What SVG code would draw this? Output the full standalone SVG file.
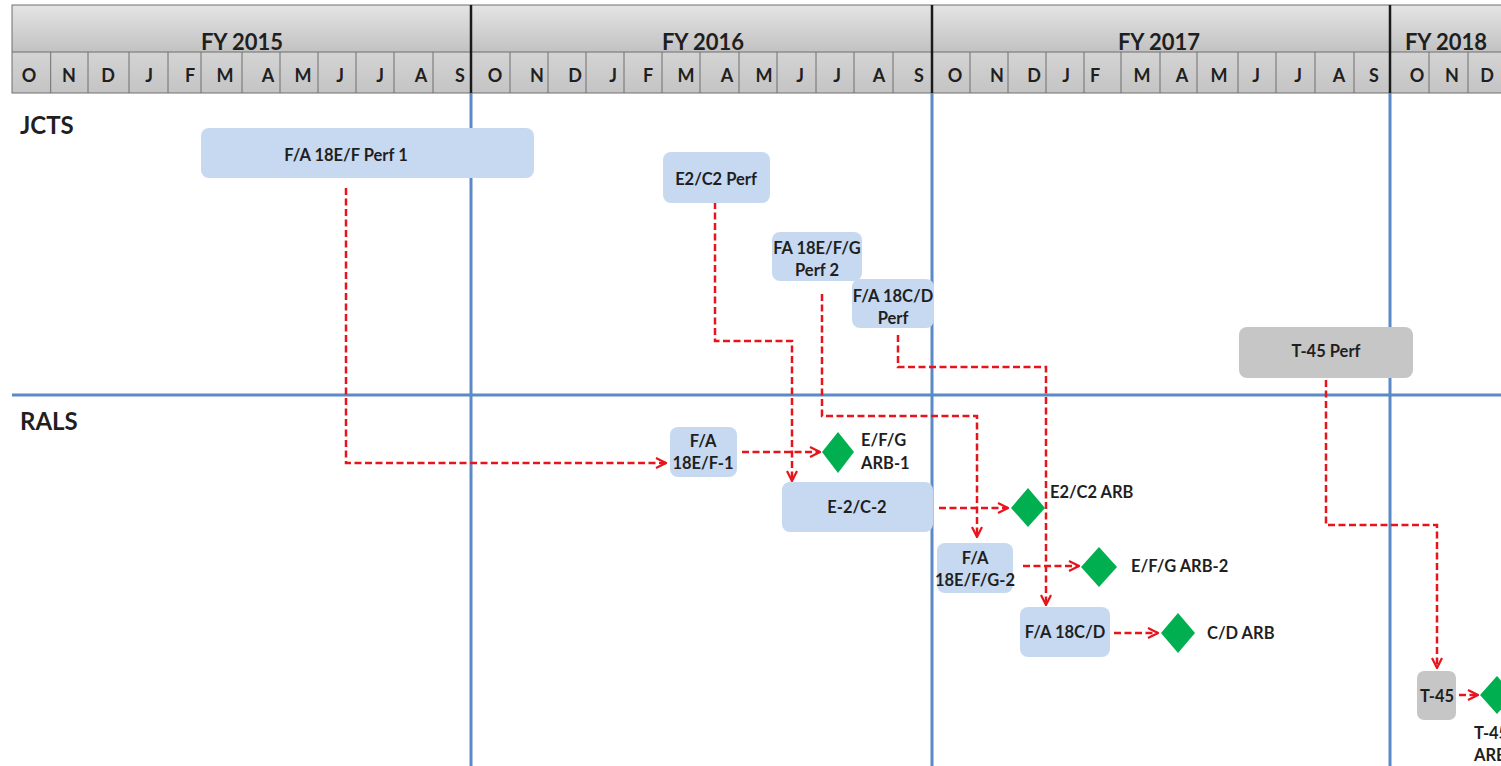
<svg xmlns="http://www.w3.org/2000/svg" width="1501" height="766" viewBox="0 0 1501 766">
<defs>
<linearGradient id="hdr" x1="0" y1="0" x2="0" y2="1">
<stop offset="0" stop-color="#e4e4e4"/>
<stop offset="1" stop-color="#c2c2c2"/>
</linearGradient>
<linearGradient id="mon" x1="0" y1="0" x2="0" y2="1">
<stop offset="0" stop-color="#d4d4d4"/>
<stop offset="1" stop-color="#c4c4c4"/>
</linearGradient>
<marker id="arr" viewBox="0 0 12 12" refX="11" refY="6" markerWidth="12" markerHeight="12" markerUnits="userSpaceOnUse" orient="auto">
<path d="M1,1 L11,6 L1,11" fill="none" stroke="#e8141c" stroke-width="2.2"/>
</marker>
<style>
text{font-family:Lato,"Open Sans","Liberation Sans",sans-serif;font-weight:700;fill:#1f1f1f}
.fy{font-size:22px;text-anchor:middle}
.m{font-size:18px;text-anchor:middle}
.sec{font-size:24px}
.nt{font-size:16.5px;text-anchor:middle}
.lb{font-size:16.5px}
.box{fill:#c6d9f1}
.gbox{fill:#c6c6c6}
.dia{fill:#00b050}
.grid{stroke:#5b8ac6;stroke-width:3;fill:none}
.cell{stroke:#6e6e6e;stroke-width:1;fill:none}
.fyl{stroke:#1a1a1a;stroke-width:2.5}
.con path{fill:none;stroke:#e8141c;stroke-width:2.5;stroke-dasharray:7 3.5;marker-end:url(#arr)}
</style>
</defs>
<rect width="1501" height="766" fill="#ffffff"/>

<g id="header">
<rect x="12" y="5" width="1495" height="47" fill="url(#hdr)"/>
<rect x="12" y="52" width="1495" height="41" fill="url(#mon)"/>
<rect x="12" y="5" width="1495" height="88" class="cell" stroke-width="1.5"/>
<line x1="12" y1="52" x2="1501" y2="52" class="cell"/>
<path class="cell" d="M50.7,52V93M88,52V93M129,52V93M168,52V93M201,52V93M242,52V93M280,52V93M318,52V93M356,52V93M394,52V93M433,52V93
M510,52V93M548,52V93M586,52V93M624,52V93M662,52V93M700,52V93M739,52V93M777,52V93M816,52V93M854,52V93M893,52V93
M970,52V93M1008,52V93M1046,52V93M1084,52V93M1121,52V93M1160,52V93M1197,52V93M1238,52V93M1276,52V93M1315,52V93M1354,52V93
M1429,52V93M1468,52V93"/>
<line x1="471" y1="5" x2="471" y2="93" class="fyl"/>
<line x1="932" y1="5" x2="932" y2="93" class="fyl"/>
<line x1="1390" y1="5" x2="1390" y2="93" class="fyl"/>
<text class="fy" x="242" y="50">FY 2015</text>
<text class="fy" x="703" y="50">FY 2016</text>
<text class="fy" x="1159" y="50">FY 2017</text>
<text class="fy" x="1446" y="50">FY 2018</text>
<g class="months">
<text class="m" x="29" y="82">O</text><text class="m" x="69" y="82">N</text><text class="m" x="108" y="82">D</text><text class="m" x="149" y="82">J</text><text class="m" x="190" y="82">F</text><text class="m" x="225" y="82">M</text><text class="m" x="268" y="82">A</text><text class="m" x="303" y="82">M</text><text class="m" x="340" y="82">J</text><text class="m" x="380" y="82">J</text><text class="m" x="421" y="82">A</text><text class="m" x="460" y="82">S</text>
<text class="m" x="495" y="82">O</text><text class="m" x="537" y="82">N</text><text class="m" x="575" y="82">D</text><text class="m" x="613" y="82">J</text><text class="m" x="648" y="82">F</text><text class="m" x="686" y="82">M</text><text class="m" x="727" y="82">A</text><text class="m" x="764" y="82">M</text><text class="m" x="800" y="82">J</text><text class="m" x="837" y="82">J</text><text class="m" x="879" y="82">A</text><text class="m" x="919" y="82">S</text>
<text class="m" x="955" y="82">O</text><text class="m" x="997" y="82">N</text><text class="m" x="1034" y="82">D</text><text class="m" x="1066" y="82">J</text><text class="m" x="1095" y="82">F</text><text class="m" x="1142" y="82">M</text><text class="m" x="1182" y="82">A</text><text class="m" x="1219" y="82">M</text><text class="m" x="1256" y="82">J</text><text class="m" x="1298" y="82">J</text><text class="m" x="1339" y="82">A</text><text class="m" x="1374" y="82">S</text>
<text class="m" x="1417" y="82">O</text><text class="m" x="1452" y="82">N</text><text class="m" x="1487" y="82">D</text>
</g>
</g>

<g id="grid">
<line x1="471" y1="93" x2="471" y2="766" class="grid"/>
<line x1="932" y1="93" x2="932" y2="766" class="grid"/>
<line x1="1390" y1="93" x2="1390" y2="766" class="grid"/>
<line x1="12" y1="395" x2="1501" y2="395" class="grid"/>
</g>

<g id="sections">
<text class="sec" x="20" y="134">JCTS</text>
<text class="sec" x="20" y="430">RALS</text>
</g>

<g id="connectors" class="con">
<path d="M346,188 V463 H666"/>
<path d="M742,452 H820"/>
<path d="M715,202 V341 H792 V481"/>
<path d="M939,508 H1008"/>
<path d="M822,294 V416 H977 V537"/>
<path d="M1023,566 H1079"/>
<path d="M898,335 V367 H1046 V605"/>
<path d="M1114,633 H1158"/>
<path d="M1326,380 V525 H1437 V668"/>
<path d="M1459,695 H1478"/>
</g>

<g id="n-fa18ef-perf1"><rect class="box" x="201" y="128" width="333" height="50" rx="8"/><text class="nt" x="346" y="161">F/A 18E/F Perf 1</text></g>
<g id="n-e2c2-perf"><rect class="box" x="663" y="152" width="107" height="51" rx="8"/><text class="nt" x="716" y="185">E2/C2 Perf</text></g>
<g id="n-fa18efg-perf2"><rect class="box" x="772" y="232" width="90" height="49" rx="8"/><text class="nt" x="817" y="254">FA 18E/F/G</text><text class="nt" x="817" y="276">Perf 2</text></g>
<g id="n-fa18cd-perf"><rect class="box" x="852" y="279" width="82" height="49" rx="8"/><text class="nt" x="893" y="302">F/A 18C/D</text><text class="nt" x="893" y="324">Perf</text></g>
<g id="n-t45-perf"><rect class="gbox" x="1239" y="327" width="174" height="51" rx="8"/><text class="nt" x="1326" y="357">T-45  Perf</text></g>

<g id="n-fa18ef-1"><rect class="box" x="670" y="427" width="67" height="50" rx="8"/><text class="nt" x="703" y="447">F/A</text><text class="nt" x="703" y="469">18E/F-1</text></g>
<g id="n-e2c2-2"><rect class="box" x="782" y="482" width="151" height="50" rx="8"/><text class="nt" x="857" y="513">E-2/C-2</text></g>
<g id="n-fa18efg-2"><rect class="box" x="937" y="543" width="76" height="50" rx="8"/><text class="nt" x="975" y="564">F/A</text><text class="nt" x="975" y="586">18E/F/G-2</text></g>
<g id="n-fa18cd"><rect class="box" x="1020" y="607" width="90" height="50" rx="8"/><text class="nt" x="1065" y="638">F/A 18C/D</text></g>
<g id="n-t45"><rect class="gbox" x="1417" y="671" width="39" height="49" rx="7"/><text class="nt" x="1437" y="702">T-45</text></g>

<g id="m-efg-arb1"><path class="dia" d="M838,432 L854,452 L838,473 L822,452 Z"/><text class="lb" x="861" y="446">E/F/G</text><text class="lb" x="861" y="469">ARB-1</text></g>
<g id="m-e2c2-arb"><path class="dia" d="M1028,488 L1045,508 L1028,527 L1011,508 Z"/><text class="lb" x="1050" y="498">E2/C2 ARB</text></g>
<g id="m-efg-arb2"><path class="dia" d="M1099,547 L1117,567 L1099,587 L1081,567 Z"/><text class="lb" x="1131" y="572">E/F/G ARB-2</text></g>
<g id="m-cd-arb"><path class="dia" d="M1178,613 L1195,633 L1178,653 L1161,633 Z"/><text class="lb" x="1207" y="639">C/D ARB</text></g>
<g id="m-t45-arb"><path class="dia" d="M1497,676 L1514,695 L1497,714 L1480,695 Z"/><text class="lb" x="1474" y="739">T-45</text><text class="lb" x="1474" y="761">ARB</text></g>
</svg>
